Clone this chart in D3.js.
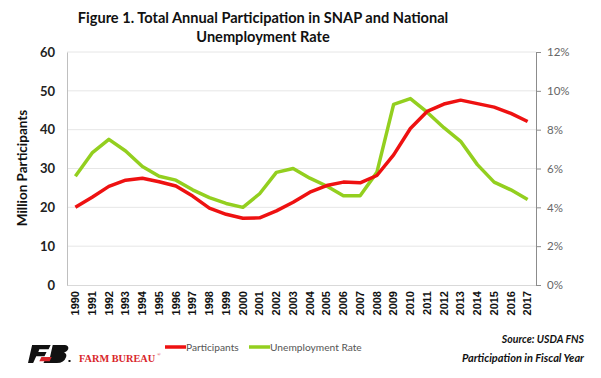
<!DOCTYPE html>
<html><head><meta charset="utf-8">
<script src="https://cdn.jsdelivr.net/npm/d3@7"></script>
<style>body{margin:0;background:#fff}svg{display:block}</style>
</head><body>
<svg id="c" width="601" height="378"></svg>
<script>
const years = ["1990","1991","1992","1993","1994","1995","1996","1997","1998","1999","2000","2001","2002","2003","2004","2005","2006","2007","2008","2009","2010","2011","2012","2013","2014","2015","2016","2017"];
const participants = [20.0,22.6,25.4,27.0,27.5,26.6,25.5,22.9,19.8,18.2,17.2,17.3,19.1,21.3,23.9,25.6,26.5,26.3,28.2,33.5,40.3,44.7,46.6,47.6,46.7,45.8,44.2,42.1];
const unemployment = [5.6,6.8,7.5,6.9,6.1,5.6,5.4,4.9,4.5,4.2,4.0,4.7,5.8,6.0,5.5,5.1,4.6,4.6,5.8,9.3,9.6,8.9,8.1,7.4,6.2,5.3,4.9,4.4];
const leftTicks = [0,10,20,30,40,50,60];
const rightTicks = [0,2,4,6,8,10,12];
const titleLines = ["Figure 1. Total Annual Participation in SNAP and National","Unemployment Rate"];

const svg = d3.select("#c");
const L=67,R=536,T=52,B=285;
const x = d3.scaleBand().domain(years).range([L,R]);
const yL = d3.scaleLinear().domain([0,60]).range([B,T]);
const yR = d3.scaleLinear().domain([0,12]).range([B,T]);

// title
svg.append("g").selectAll("text").data(titleLines).join("text")
  .attr("x",263).attr("y",(d,i)=>23+i*19).attr("text-anchor","middle")
  .attr("font-family","Lato, sans-serif").attr("font-weight","bold").attr("font-size",14.6)
  .attr("fill","#111").text(d=>d);

// gridlines
svg.append("g").selectAll("line").data(leftTicks.filter(d=>d>0)).join("line")
  .attr("x1",L).attr("x2",R).attr("y1",d=>yL(d)).attr("y2",d=>yL(d))
  .attr("stroke","#e6e6e6").attr("stroke-width",1);
svg.append("line").attr("x1",L).attr("x2",R).attr("y1",B+0.5).attr("y2",B+0.5).attr("stroke","#d9d9d9");

// left axis
const gl = svg.append("g").attr("transform",`translate(${L},0)`)
  .call(d3.axisLeft(yL).tickValues(leftTicks).tickSize(0).tickPadding(12));
gl.select(".domain").attr("stroke","#bfbfbf");
gl.selectAll("text").attr("font-family","Lato, sans-serif").attr("font-weight","bold").attr("font-size",13).attr("fill","#222");

// right axis
const gr = svg.append("g").attr("transform",`translate(${R},0)`)
  .call(d3.axisRight(yR).tickValues(rightTicks).tickSize(5).tickPadding(6).tickFormat(d=>d+"%"));
gr.select(".domain").attr("stroke","#8c8c8c");
gr.selectAll("line").attr("stroke","#8c8c8c");
gr.selectAll("text").attr("font-family","Lato, sans-serif").attr("font-size",11.5).attr("fill","#666");

// x axis labels
const gx = svg.append("g").attr("transform",`translate(0,${B})`)
  .call(d3.axisBottom(x).tickSize(0).tickPadding(0));
gx.select(".domain").remove();
gx.selectAll("text").attr("transform","rotate(-90)").attr("text-anchor","end")
  .attr("x",-6).attr("y",0).attr("dy","0.35em")
  .attr("font-family","Liberation Sans, Arial, sans-serif").attr("font-weight","bold").attr("font-size",11).attr("fill","#111");

// y title
svg.append("text").attr("transform","translate(27,168) rotate(-90)").attr("text-anchor","middle")
  .attr("font-family","Lato, sans-serif").attr("font-weight","bold").attr("font-size",13.5).attr("fill","#111")
  .text("Million Participants");

const cx = d=>x(d)+x.bandwidth()/2;
svg.append("path").datum(years.map((y,i)=>[cx(y),yR(unemployment[i])]))
  .attr("d",d3.line()).attr("fill","none").attr("stroke","#93cf1f").attr("stroke-width",3.5).attr("stroke-linejoin","round");
svg.append("path").datum(years.map((y,i)=>[cx(y),yL(participants[i])]))
  .attr("d",d3.line()).attr("fill","none").attr("stroke","#ee1111").attr("stroke-width",3.5).attr("stroke-linejoin","round");

// legend
const legend = [["Participants","#ee1111",165],["Unemployment Rate","#93cf1f",249]];
const lg = svg.append("g").selectAll("g").data(legend).join("g").attr("transform",d=>`translate(${d[2]},347)`);
lg.append("line").attr("x1",0).attr("x2",21).attr("stroke",d=>d[1]).attr("stroke-width",3.5);
lg.append("text").attr("x",21).attr("dy","0.35em").attr("font-family","Lato, sans-serif").attr("font-size",10.2).attr("fill","#555").text(d=>d[0]);

// source notes
svg.append("text").attr("x",584).attr("y",343).attr("text-anchor","end")
  .attr("font-family","Lato, sans-serif").attr("font-weight","bold").attr("font-style","italic").attr("font-size",10.5).attr("fill","#111").text("Source: USDA FNS");
svg.append("text").attr("x",584).attr("y",362).attr("text-anchor","end")
  .attr("font-family","Lato, sans-serif").attr("font-weight","bold").attr("font-style","italic").attr("font-size",11).attr("fill","#111").text("Participation in Fiscal Year");

// logo
const lo = svg.append("g").attr("transform","translate(28,345) scale(1.03,0.86)");
lo.append("path").attr("d","M4,0 L22,0 L20,5 L11,5 L10,8 L18,8 L16,13 L8,13 L5,21 L0,21 Z").attr("fill","#111");
lo.append("path").attr("d","M24,0 L36,0 Q40,1 39,5 Q38,8 35,9 Q38,10 37,14 Q35,21 28,21 L15,21 L17,16 L21,16 Z").attr("fill","#111");
lo.append("path").attr("d","M13,14 L23,14 L21,19 L11,19 Z").attr("fill","#d9262b");
svg.append("rect").attr("x",68.5).attr("y",360).attr("width",2).attr("height",2).attr("fill","#111");
svg.append("text").attr("x",79).attr("y",362).attr("font-family","Liberation Serif, serif").attr("font-weight","bold").attr("font-size",10.3).attr("fill","#d9262b").text("FARM BUREAU");
svg.append("text").attr("x",157).attr("y",356).attr("font-family","Liberation Serif, serif").attr("font-size",5).attr("fill","#d9262b").text("®");
</script>
</body></html>
